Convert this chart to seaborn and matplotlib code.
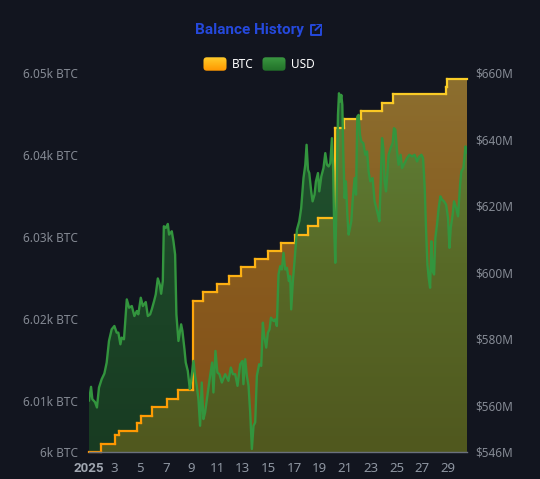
import numpy as np
import matplotlib
matplotlib.use("Agg")
import matplotlib.pyplot as plt
import seaborn as sns
from matplotlib.collections import LineCollection
from matplotlib.patches import FancyBboxPatch
from matplotlib.ticker import FuncFormatter

# BTC balance steps (day of month, January 2025)
btc_days = [1.00, 1.91, 3.05, 3.37, 4.73, 5.04, 5.92, 7.12, 7.98, 9.15, 9.88, 10.98,
            11.91, 12.90, 13.95, 15.00, 15.98, 17.04, 18.07, 18.85, 20.18, 20.90,
            22.25, 23.90, 24.70, 28.84, 28.95, 30.50]
btc_balance = [6003.8, 6004.8, 6005.85, 6006.3, 6007.3, 6008.2, 6009.3, 6010.2, 6011.3,
               6022.2, 6023.3, 6024.3, 6025.3, 6026.3, 6027.3, 6028.3, 6029.3, 6030.3,
               6031.3, 6032.3, 6043.3, 6044.4, 6045.4, 6046.4, 6047.4, 6048.3, 6049.3,
               6049.3]

# USD value of the balance, $M
usd_days = [1.00, 1.16, 1.26, 1.47, 1.62, 1.78, 1.99, 2.20, 2.38, 2.56, 2.77, 2.98,
            3.16, 3.29, 3.45, 3.55, 3.73, 3.95, 4.13, 4.34, 4.54, 4.73, 4.85, 5.04,
            5.20, 5.43, 5.59, 5.77, 5.90, 6.08, 6.21, 6.37, 6.52, 6.63, 6.76, 6.84,
            6.99, 7.15, 7.25, 7.46, 7.59, 7.72, 7.82, 7.98, 8.19, 8.29, 8.45, 8.55,
            8.71, 8.87, 8.97, 9.15, 9.28, 9.41, 9.54, 9.67, 9.80, 9.93, 10.06, 10.24,
            10.45, 10.61, 10.71, 10.87, 11.02, 11.18, 11.37, 11.63, 11.88, 12.07, 12.23,
            12.41, 12.59, 12.80, 12.98, 13.05, 13.19, 13.32, 13.45, 13.58, 13.71, 13.84,
            13.97, 14.10, 14.28, 14.44, 14.57, 14.67, 14.83, 14.96, 15.09, 15.20, 15.40,
            15.53, 15.66, 15.79, 15.92, 16.05, 16.18, 16.31, 16.45, 16.60, 16.70, 16.78,
            16.91, 17.05, 17.23, 17.41, 17.56, 17.74, 17.88, 17.98, 18.09, 18.19, 18.34,
            18.45, 18.60, 18.71, 18.87, 18.97, 19.13, 19.30, 19.44, 19.57, 19.70, 19.83,
            19.96, 20.06, 20.14, 20.22, 20.30, 20.38, 20.43, 20.51, 20.61, 20.69, 20.77,
            20.84, 20.95, 21.05, 21.16, 21.26, 21.37, 21.47, 21.57, 21.73, 21.84, 21.94,
            22.04, 22.15, 22.25, 22.41, 22.56, 22.70, 22.82, 22.95, 23.13, 23.29, 23.42,
            23.55, 23.66, 23.76, 23.87, 23.97, 24.07, 24.18, 24.28, 24.38, 24.54, 24.70,
            24.80, 24.91, 25.04, 25.16, 25.32, 25.43, 25.63, 25.82, 26.00, 26.21, 26.41,
            26.60, 26.78, 26.94, 27.07, 27.20, 27.30, 27.41, 27.51, 27.62, 27.72, 27.82,
            27.93, 28.03, 28.16, 28.29, 28.42, 28.55, 28.71, 28.87, 29.02, 29.13, 29.23,
            29.38, 29.49, 29.65, 29.80, 29.96, 30.06, 30.22, 30.38, 30.50]
usd_balance = [561.4, 565.6, 561.9, 561.0, 559.4, 565.4, 567.9, 569.6, 572.9, 579.4, 582.9, 583.9,
               581.9, 581.9, 578.4, 580.4, 579.9, 591.9, 589.4, 589.9, 586.9, 588.4, 587.4, 592.4,
               589.9, 591.1, 586.9, 587.4, 588.9, 591.4, 593.4, 598.2, 596.4, 593.6, 597.4, 613.9,
               613.4, 614.6, 611.4, 612.4, 609.4, 605.4, 587.4, 579.4, 584.4, 582.4, 576.9, 572.9,
               570.4, 564.9, 567.4, 573.4, 568.9, 565.9, 561.9, 553.9, 566.9, 555.9, 557.9, 562.9,
               568.9, 572.9, 563.9, 576.4, 569.9, 569.4, 566.9, 569.4, 567.4, 571.4, 569.4,
               569.4, 565.9, 572.4, 573.4, 566.4, 573.9, 568.9, 565.9, 557.9, 546.9, 553.9,
               554.9, 568.9, 572.4, 571.9, 584.9, 580.9, 577.4, 581.9, 582.9, 586.4, 585.4,
               585.9, 583.9, 599.4, 601.9, 600.9, 605.9, 600.9, 601.4, 597.4, 598.9, 588.9,
               597.4, 603.9, 612.9, 615.4, 619.4, 628.4, 632.4, 638.4, 630.9, 629.9, 624.4,
               621.4, 623.4, 627.4, 629.9, 624.4, 628.9, 631.4, 635.9, 632.4, 631.9, 632.9,
               640.4, 630.4, 612.4, 602.9, 618.4, 636.4, 647.4, 653.9, 651.4, 653.4, 650.4,
               636.4, 622.4, 627.4, 617.4, 611.4, 613.4, 615.4, 621.4, 628.4, 623.4, 646.9,
               647.4, 641.4, 639.4, 638.9, 635.4, 636.4, 630.4, 627.4, 628.4, 621.4, 619.4,
               617.4, 615.4, 626.4, 640.4, 637.4, 627.4, 624.4, 629.4, 635.4, 637.4, 638.9,
               643.4, 642.9, 636.4, 632.4, 635.4, 631.4, 632.9, 634.4, 635.4, 634.9, 635.4,
               633.4, 634.9, 635.4, 634.4, 625.4, 613.4, 602.4, 598.4, 595.4, 609.4, 600.4,
               599.4, 610.4, 614.4, 619.4, 622.9, 621.9, 621.4, 620.4, 616.4, 607.4, 613.4,
               617.4, 621.4, 619.4, 616.9, 626.4, 630.4, 631.4, 637.9, 635.9]

x_ticks = list(range(1, 30, 2))
x_labels = ["2025"] + [str(d) for d in x_ticks[1:]]
btc_ticks = [6003.8, 6010, 6020, 6030, 6040, 6050]
usd_ticks = [546, 560, 580, 600, 620, 640, 660]
series_names = ["BTC", "USD"]

BG = "#12151f"
sns.set_theme(style="dark", rc={"axes.facecolor": BG, "figure.facecolor": BG})
plt.rcParams["font.family"] = ["Noto Sans", "DejaVu Sans"]
BOLD_FAMILY = ["Roboto", "Liberation Sans", "DejaVu Sans"]


def rgba(r, g, b, a=1.0):
    return (r / 255, g / 255, b / 255, a)


def vgrad(bottom, mid, top, n=256):
    t = np.linspace(0, 1, n)
    stops = np.array([bottom, mid, top], float)
    arr = np.stack([np.interp(t, [0, 0.5, 1], stops[:, c]) for c in range(4)], axis=-1)
    return arr[:, None, :]


def gradient_area(ax, x, y, colors, step=None, zorder=0):
    y0, y1 = ax.get_ylim()
    coll = ax.fill_between(x, y, y0, step=step, facecolor="none", edgecolor="none")
    img = ax.imshow(vgrad(*colors), extent=[x[0], x[-1], y0, y1], origin="lower",
                    aspect="auto", interpolation="bilinear", zorder=zorder)
    img.set_clip_path(coll.get_paths()[0], transform=ax.transData)


def gradient_line(ax, x, y, ylim, c_bottom, c_top, lw, transform, zorder, capstyle):
    pts = np.column_stack([x, y])
    segs = np.stack([pts[:-1], pts[1:]], axis=1)
    t = ((pts[:-1, 1] + pts[1:, 1]) / 2 - ylim[0]) / (ylim[1] - ylim[0])
    cb, ct = np.array(c_bottom), np.array(c_top)
    cols = np.clip(cb + np.outer(t, ct - cb), 0, 1)
    lc = LineCollection(segs, colors=cols, linewidths=lw, transform=transform,
                        zorder=zorder, capstyle=capstyle, joinstyle="round")
    lc.set_clip_on(False)
    ax.add_collection(lc, autolim=False)


fig = plt.figure(figsize=(5.4, 4.79), dpi=100)
ax1 = fig.add_axes([89 / 540, 27 / 479, 378 / 540, 379 / 479])
ax2 = ax1.twinx()
xlim = (1, 30.5)
btc_lim = (btc_ticks[0], btc_ticks[-1])
usd_lim = (usd_ticks[0], usd_ticks[-1])
ax1.set_xlim(*xlim)
ax1.set_ylim(*btc_lim)
ax2.set_ylim(*usd_lim)

# areas: orange (BTC) underneath, green (USD) on top
gradient_area(ax1, btc_days, btc_balance,
              (rgba(221, 127, 19, 0.55), rgba(236, 150, 30, 0.55), rgba(240, 186, 62, 0.55)),
              step="post")
gradient_area(ax2, usd_days, usd_balance,
              (rgba(31, 98, 38, 0.5), rgba(40, 122, 50, 0.5), rgba(56, 158, 72, 0.5)),
              zorder=1)

# BTC step line drawn above the green area
sx = np.repeat(btc_days, 2)[1:]
sy = np.repeat(btc_balance, 2)[:-1]
gradient_line(ax2, sx, sy, btc_lim, rgba(255, 150, 0), rgba(250, 206, 40), 1.6,
              ax1.transData, 2, "projecting")

# USD line
sns.lineplot(x=usd_days, y=usd_balance, ax=ax2, color="#33953e", linewidth=1.7, zorder=3)

ax1.set_xlim(*xlim)
ax1.set_ylim(*btc_lim)
ax2.set_ylim(*usd_lim)
ax2.set_xlabel("")
ax2.set_ylabel("")

# axes styling
ax1.set_xticks(x_ticks, x_labels)
ax1.tick_params(axis="x", length=5, width=1, color="#6b717d", labelcolor="#8e95a1",
                labelsize=9.5, pad=2)
first = ax1.get_xticklabels()[0]
first.set_fontweight("bold")
first.set_fontfamily(BOLD_FAMILY)
first.set_color("#a0a6b0")
ax1.set_yticks(btc_ticks)
ax1.yaxis.set_major_formatter(FuncFormatter(lambda v, p: f"{v / 1000:.3g}k BTC"))
ax1.tick_params(axis="y", length=0, labelcolor="#858a94", labelsize=8.5, pad=8)
ax2.set_yticks(usd_ticks)
ax2.yaxis.set_major_formatter(FuncFormatter(lambda v, p: f"${v:.0f}M"))
ax2.tick_params(axis="y", length=0, labelcolor="#858a94", labelsize=8.5, pad=6)
for ax in (ax1, ax2):
    for s in ax.spines.values():
        s.set_visible(False)
ax2.spines["bottom"].set_visible(True)
ax2.spines["bottom"].set_color("#6b717d")
ax2.spines["bottom"].set_linewidth(1)
ax2.spines["bottom"].set_zorder(5)

# title + external link icon
fig.text(249 / 540, 1 - 30 / 479, "Balance History", ha="center", va="center",
         color="#2549dc", fontsize=11, fontweight="bold", family=BOLD_FAMILY)
iax = fig.add_axes([310 / 540, 1 - 36 / 479, 12 / 540, 12 / 479])
iax.set_xlim(0, 1)
iax.set_ylim(0, 1)
iax.axis("off")
icon_kw = dict(color="#2549dc", lw=1.4, solid_capstyle="round", solid_joinstyle="round")
iax.plot([0.45, 0.05, 0.05, 0.95, 0.95], [0.95, 0.95, 0.05, 0.05, 0.55], **icon_kw)
iax.plot([0.45, 1.0], [0.5, 1.0], **icon_kw)
iax.plot([0.62, 1.0, 1.0], [1.0, 1.0, 0.62], **icon_kw)

# legend
legend_items = [
    (series_names[0], 203, (rgba(255, 150, 0), rgba(255, 178, 20), rgba(255, 204, 45))),
    (series_names[1], 262, (rgba(34, 112, 42), rgba(45, 132, 52), rgba(60, 152, 66))),
]
for name, x0, cols in legend_items:
    sax = fig.add_axes([x0 / 540, 1 - 71 / 479, 24 / 540, 14 / 479])
    sax.axis("off")
    img = sax.imshow(vgrad(*cols), extent=[0, 1, 0, 1], origin="lower", aspect="auto")
    box = FancyBboxPatch((0.02, 0.02), 0.96, 0.96, boxstyle="round,pad=0,rounding_size=0.14",
                         mutation_aspect=24 / 14, transform=sax.transAxes,
                         facecolor="none", edgecolor="none")
    sax.add_patch(box)
    img.set_clip_path(box)
    fig.text((x0 + 29) / 540, 1 - 64 / 479, name, ha="left", va="center",
             color="white", fontsize=8.5)

fig.savefig("out.png", dpi=100, facecolor=BG)
